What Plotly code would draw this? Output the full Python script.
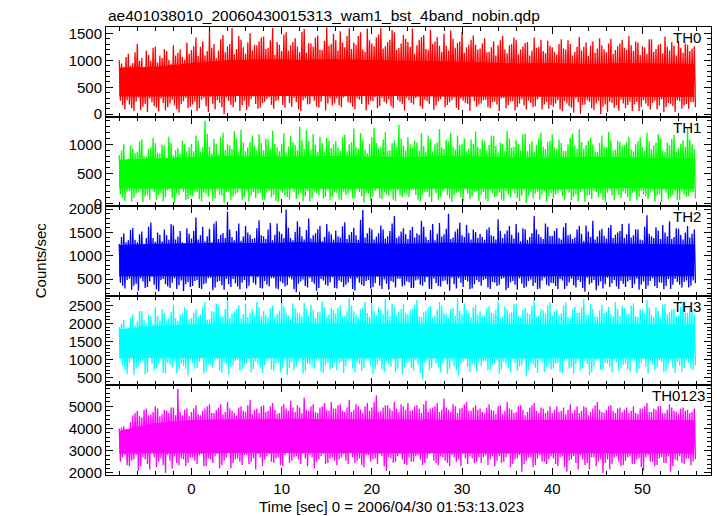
import plotly.graph_objects as go
from plotly.subplots import make_subplots

# ---------------- data ----------------
TITLE = "ae401038010_20060430015313_wam1_bst_4band_nobin.qdp"
XLABEL = "Time [sec] 0 = 2006/04/30 01:53:13.023"
YLABEL = "Counts/sec"
BANDS = ["TH0", "TH1", "TH2", "TH3", "TH0123"]
COLORS = ["#ff0000", "#00ff00", "#0000ff", "#00ffff", "#ff00ff"]

T_START = -8.0      # first time bin [s]
T_BIN = 0.125       # spacing between successive samples [s]

# local peaks (HI) and troughs (LO); per 0.5 s: HI_A, LO_A, HI_B, LO_B
TH0_HI_A = [1000, 880, 1120, 950, 1300, 1040, 1180, 990, 1250, 1090, 1210, 1010, 1280, 1140, 1060, 1330,
            1190, 1420, 1250, 1090, 1560, 1300, 1180, 1470, 1260, 1600, 1210, 1380, 1120, 1500, 1290, 1350,
            1440, 1230, 1600, 1340, 1170, 1520, 1280, 1410, 1150, 1580, 1320, 1250, 1460, 1190, 1610, 1300,
            1370, 1540, 1240, 1600, 1330, 1450, 1200, 1590, 1310, 1420, 1600, 1260, 1380, 1520, 1230, 1470,
            1340, 1590, 1280, 1430, 1210, 1560, 1350, 1270, 1490, 1180, 1400, 1320, 1530, 1240, 1380, 1290,
            1220, 1410, 1160, 1350, 1280, 1450, 1130, 1300, 1380, 1200, 1320, 1090, 1420, 1250, 1170, 1360,
            1240, 1110, 1390, 1200, 1300, 1160, 1430, 1250, 1080, 1350, 1220, 1280, 1150, 1400, 1190, 1310,
            1230, 1450, 1170, 1330, 1260, 1120, 1390, 1210, 1300, 1440, 1180, 1270, 1350, 1140, 1290, 1220]
TH0_LO_A = [250, 90, 180, 60, 310, 140, 40, 220, 120, 290, 70, 200, 160, 30, 240, 110,
            180, 60, 270, 150, 320, 90, 210, 0, 250, 130, 340, 170, 80, 280, 190, 120,
            230, 310, 100, 260, 170, 380, 140, 220, 60, 300, 190, 250, 120, 350, 200, 160,
            290, 130, 330, 210, 90, 270, 360, 180, 240, 110, 300, 200, 150, 340, 230, 70,
            260, 180, 320, 100, 240, 350, 160, 280, 130, 220, 310, 80, 250, 190, 330, 140,
            200, 270, 110, 230, 60, 300, 170, 240, 130, 280, 90, 210, 150, 320, 180, 100,
            140, 260, 60, 200, 120, 290, 10, 180, 230, 80, 250, 140, 40, 210, 170, 270,
            110, 230, 180, 60, 260, 150, 210, 90, 280, 130, 190, 40, 240, 160, 100, 220]
TH0_HI_B = [940, 1060, 900, 1150, 990, 870, 1100, 1230, 960, 1040, 1170, 930, 1090, 1200, 1010, 1120,
            1260, 1080, 1350, 1170, 1230, 1040, 1390, 1150, 1300, 1110, 1450, 1240, 1330, 1180, 1280, 1420,
            1210, 1370, 1100, 1290, 1480, 1180, 1340, 1250, 1530, 1140, 1310, 1420, 1200, 1360, 1270, 1490,
            1180, 1330, 1450, 1210, 1290, 1520, 1160, 1370, 1260, 1480, 1220, 1340, 1560, 1190, 1310, 1400,
            1250, 1120, 1380, 1470, 1190, 1300, 1430, 1160, 1270, 1550, 1230, 1350, 1140, 1290, 1460, 1200,
            1310, 1150, 1240, 1090, 1370, 1200, 1280, 1420, 1110, 1260, 1340, 1180, 1230, 1380, 1130, 1270,
            1160, 1300, 1220, 1370, 1090, 1250, 1180, 1330, 1270, 1140, 1410, 1200, 1310, 1120, 1260, 1380,
            1190, 1280, 1350, 1100, 1240, 1390, 1160, 1290, 1130, 1250, 1340, 1090, 1230, 1310, 1170, 1260]
TH0_LO_B = [170, 260, 110, 230, 80, 190, 290, 150, 50, 210, 130, 270, 90, 190, 300, 140,
            230, 110, 300, 40, 190, 260, 130, 310, 170, 220, 60, 250, 140, 330, 100, 210,
            280, 170, 240, 350, 120, 210, 300, 90, 260, 180, 330, 140, 230, 70, 290, 200,
            160, 310, 220, 140, 290, 190, 70, 250, 320, 150, 230, 280, 110, 260, 190, 300,
            210, 300, 150, 270, 190, 80, 240, 330, 170, 260, 120, 290, 210, 60, 240, 180,
            260, 130, 220, 180, 290, 110, 240, 70, 200, 160, 250, 130, 280, 90, 230, 170,
            200, 90, 240, 150, 30, 220, 170, 260, 110, 200, 0, 180, 230, 120, 70, 200,
            170, 60, 230, 140, 200, 90, 250, 160, 40, 210, 150, 260, 100, 190, 220, 130]

TH1_HI_A = [820, 1000, 760, 930, 870, 1080, 790, 950, 1020, 850, 980, 1130, 810, 940, 1060, 880,
            1010, 1150, 870, 1400, 960, 1090, 830, 1200, 1000, 920, 1100, 1250, 880, 1040, 970, 1170,
            900, 1080, 1230, 950, 1010, 860, 1140, 990, 1300, 920, 1060, 1180, 870, 1020, 1110, 940,
            1050, 890, 1160, 1000, 1270, 930, 1080, 850, 1120, 1020, 960, 1210, 900, 1070, 1330, 980,
            1120, 940, 1030, 1190, 870, 1090, 1000, 1260, 920, 1050, 960, 1150, 1010, 880, 1080, 1220,
            930, 1060, 990, 1140, 860, 1010, 1230, 940, 1070, 900, 1180, 1000, 870, 1100, 960, 1040,
            1170, 920, 1020, 890, 1110, 980, 1260, 930, 1060, 1000, 870, 1150, 950, 1080, 910, 1040,
            990, 1130, 880, 1050, 960, 1200, 920, 1030, 1100, 870, 990, 1160, 940, 1070, 1290, 1000]
TH1_LO_A = [150, 40, 210, 90, 180, 20, 130, 230, 60, 170, 100, 250, 10, 140, 200, 70,
            120, 190, 30, 160, 240, 80, 150, 0, 200, 110, 180, 50, 220, 130, 90, 170,
            60, 210, 140, 20, 180, 100, 250, 70, 160, 120, 30, 200, 140, 80, 230, 110,
            170, 50, 140, 220, 90, 190, 10, 160, 120, 240, 70, 150, 200, 40, 130, 180,
            100, 230, 60, 150, 190, 20, 170, 110, 250, 80, 140, 200, 30, 160, 120, 210,
            140, 70, 220, 100, 180, 40, 150, 240, 90, 130, 10, 190, 160, 60, 210, 120,
            80, 170, 120, 230, 50, 150, 190, 20, 140, 210, 100, 60, 180, 130, 240, 90,
            160, 40, 200, 110, 150, 70, 230, 130, 20, 180, 100, 210, 60, 150, 120, 190]
TH1_HI_B = [900, 740, 980, 850, 1050, 800, 920, 1110, 860, 990, 770, 1030, 900, 840, 1000, 950,
            880, 1060, 950, 1180, 840, 1010, 1120, 900, 980, 1220, 870, 1030, 950, 1150, 900, 1020,
            1100, 930, 1010, 880, 1190, 960, 1040, 900, 1070, 1240, 910, 990, 1130, 870, 1060, 1000,
            950, 1120, 880, 1040, 960, 1190, 910, 1010, 1280, 930, 1080, 890, 1020, 960, 1100, 900,
            1000, 1060, 900, 970, 1150, 880, 1030, 950, 1080, 1200, 910, 990, 1100, 930, 1010, 960,
            1080, 900, 1150, 970, 1030, 890, 1100, 960, 1010, 1170, 880, 1050, 990, 1200, 920, 1060,
            950, 1080, 890, 1000, 1180, 920, 1040, 990, 1110, 880, 1020, 950, 1210, 900, 1060, 980,
            1040, 910, 1000, 1120, 890, 1050, 980, 1170, 900, 1030, 1090, 870, 1010, 960, 1080, 920]
TH1_LO_B = [90, 200, 30, 160, 240, 110, 60, 190, 140, 30, 220, 90, 170, 240, 50, 130,
            200, 70, 180, 110, 40, 230, 130, 190, 60, 150, 240, 100, 30, 190, 160, 50,
            180, 100, 40, 220, 130, 60, 190, 150, 30, 210, 90, 170, 240, 110, 50, 190,
            60, 200, 160, 80, 230, 120, 170, 40, 210, 90, 190, 130, 60, 220, 100, 150,
            220, 140, 30, 190, 110, 240, 60, 200, 140, 20, 180, 100, 230, 70, 190, 40,
            190, 30, 170, 120, 60, 210, 100, 160, 40, 230, 130, 80, 200, 150, 20, 170,
            150, 220, 60, 180, 110, 30, 240, 130, 70, 190, 160, 30, 220, 60, 140, 200,
            100, 170, 50, 210, 120, 180, 20, 160, 230, 70, 140, 50, 200, 110, 190, 80]

TH2_HI_A = [1250, 1480, 1330, 1600, 1290, 1520, 1380, 1710, 1300, 1450, 1560, 1340, 1650, 1410, 1290, 1590,
            1370, 1820, 1440, 1310, 1580, 1690, 1360, 1490, 1950, 1400, 1530, 1320, 1640, 1450, 1380, 1760,
            1420, 1560, 1330, 1690, 1470, 1990, 1380, 1510, 1620, 1350, 1800, 1440, 1570, 1310, 1680, 1460,
            1540, 1390, 1720, 1450, 1600, 1340, 1980, 1480, 1560, 1410, 1650, 1370, 1530, 1850, 1420, 1590,
            1360, 1620, 1480, 1750, 1400, 1550, 1330, 1700, 1460, 1900, 1390, 1580, 1440, 1660, 1350, 1510,
            1470, 1340, 1610, 1420, 1780, 1380, 1540, 1450, 1680, 1310, 1570, 1400, 1850, 1460, 1360, 1620,
            1430, 1590, 1350, 1700, 1460, 1390, 1640, 1320, 1520, 1750, 1410, 1580, 1370, 1660, 1450, 1530,
            1380, 1690, 1440, 1560, 1330, 1870, 1420, 1610, 1360, 1500, 1740, 1400, 1580, 1350, 1640, 1470]
TH2_LO_A = [420, 300, 510, 360, 250, 450, 330, 550, 280, 480, 390, 310, 520, 370, 240, 440,
            350, 480, 290, 410, 530, 320, 460, 270, 390, 500, 340, 430, 300, 560, 380, 310,
            460, 340, 520, 280, 410, 370, 490, 220, 450, 350, 530, 400, 310, 470, 360, 540,
            300, 440, 380, 510, 260, 420, 350, 480, 330, 550, 290, 400, 460, 320, 500, 370,
            430, 310, 490, 360, 540, 280, 410, 340, 470, 250, 390, 520, 330, 450, 300, 480,
            360, 500, 290, 430, 380, 520, 310, 460, 270, 400, 340, 490, 420, 300, 530, 350,
            410, 280, 470, 350, 510, 320, 440, 230, 390, 480, 360, 300, 530, 410, 340, 460,
            330, 480, 390, 270, 450, 360, 520, 310, 420, 350, 290, 500, 380, 440, 320, 470]
TH2_HI_B = [1400, 1290, 1550, 1340, 1460, 1250, 1620, 1380, 1500, 1310, 1440, 1680, 1350, 1530, 1270, 1470,
            1530, 1350, 1620, 1420, 1290, 1740, 1450, 1380, 1560, 1330, 1690, 1410, 1500, 1360, 1590, 1440,
            1360, 1700, 1450, 1520, 1380, 1600, 1330, 1740, 1420, 1550, 1370, 1480, 1640, 1400, 1520, 1350,
            1420, 1630, 1360, 1510, 1440, 1770, 1390, 1600, 1350, 1480, 1560, 1420, 1690, 1380, 1520, 1460,
            1550, 1390, 1450, 1620, 1340, 1680, 1470, 1410, 1580, 1360, 1520, 1710, 1400, 1490, 1560, 1380,
            1400, 1560, 1440, 1350, 1530, 1470, 1640, 1370, 1500, 1590, 1340, 1480, 1560, 1400, 1690, 1430,
            1530, 1380, 1610, 1440, 1360, 1560, 1470, 1650, 1400, 1350, 1540, 1430, 1600, 1380, 1500, 1680,
            1460, 1390, 1570, 1350, 1620, 1470, 1380, 1540, 1660, 1420, 1360, 1590, 1450, 1500, 1390, 1560]
TH2_LO_B = [360, 480, 270, 400, 520, 310, 450, 380, 240, 500, 340, 420, 290, 470, 390, 330,
            460, 310, 390, 520, 260, 440, 370, 500, 330, 410, 280, 480, 360, 420, 540, 300,
            380, 520, 300, 450, 340, 530, 280, 400, 490, 320, 440, 250, 500, 380, 430, 310,
            470, 330, 430, 290, 520, 380, 460, 300, 410, 360, 490, 270, 430, 510, 340, 450,
            310, 470, 380, 440, 290, 510, 350, 460, 390, 530, 300, 420, 480, 280, 390, 440,
            480, 320, 440, 350, 500, 260, 430, 380, 520, 310, 460, 350, 290, 470, 380, 420,
            350, 500, 290, 430, 370, 480, 310, 530, 420, 260, 450, 390, 330, 480, 290, 400,
            450, 310, 510, 380, 290, 460, 350, 430, 280, 500, 380, 440, 320, 470, 360, 410]

TH3_HI_A = [1900, 2100, 1850, 2250, 2050, 2350, 2000, 2200, 2450, 2080, 2300, 2150, 2520, 2060, 2280, 2380,
            2150, 2400, 2250, 2600, 2120, 2330, 2480, 2200, 2700, 2280, 2400, 2150, 2550, 2300, 2220, 2450,
            2350, 2180, 2500, 2260, 2650, 2300, 2140, 2420, 2270, 2580, 2200, 2380, 2310, 2620, 2170, 2440,
            2280, 2500, 2210, 2700, 2340, 2160, 2450, 2290, 2560, 2230, 2390, 2680, 2200, 2470, 2320, 2540,
            2250, 2410, 2650, 2180, 2360, 2490, 2220, 2600, 2300, 2150, 2430, 2700, 2260, 2380, 2170, 2520,
            2340, 2200, 2480, 2270, 2620, 2190, 2400, 2310, 2550, 2160, 2430, 2260, 2650, 2220, 2370, 2500,
            2210, 2390, 2280, 2580, 2150, 2460, 2300, 2690, 2240, 2400, 2180, 2520, 2330, 2260, 2600, 2200,
            2430, 2270, 2560, 2190, 2380, 2650, 2250, 2460, 2170, 2540, 2310, 2400, 2230, 2620, 2290, 2360]
TH3_LO_A = [1000, 700, 900, 560, 820, 950, 620, 880, 740, 1000, 600, 850, 950, 700, 820, 560,
            900, 760, 1020, 650, 840, 970, 700, 900, 580, 830, 1000, 720, 880, 640, 950, 780,
            840, 1000, 690, 900, 770, 560, 920, 810, 1030, 670, 860, 740, 980, 620, 890, 760,
            700, 930, 820, 1000, 640, 870, 760, 990, 590, 850, 720, 940, 800, 660, 1010, 780,
            920, 690, 850, 450, 980, 760, 880, 640, 1000, 730, 820, 560, 940, 790, 870, 680,
            810, 960, 700, 870, 600, 930, 760, 1010, 680, 840, 550, 900, 770, 990, 650, 860,
            740, 900, 620, 1000, 780, 860, 690, 950, 560, 820, 1000, 710, 880, 640, 920, 770,
            880, 660, 950, 740, 1010, 600, 860, 780, 920, 680, 990, 620, 830, 760, 900, 700]
TH3_HI_B = [2000, 1800, 2150, 1950, 2350, 2100, 2250, 1980, 2200, 2400, 2050, 2320, 2150, 2250, 2450, 2120,
            2300, 2180, 2450, 2100, 2350, 2550, 2200, 2400, 2150, 2330, 2500, 2250, 2180, 2400, 2600, 2200,
            2240, 2420, 2160, 2350, 2480, 2220, 2560, 2300, 2200, 2400, 2520, 2150, 2330, 2450, 2250, 2380,
            2420, 2200, 2340, 2500, 2250, 2400, 2600, 2180, 2350, 2450, 2270, 2380, 2550, 2230, 2400, 2300,
            2370, 2530, 2200, 2320, 2450, 2180, 2380, 2500, 2260, 2400, 2210, 2350, 2560, 2300, 2450, 2240,
            2200, 2430, 2300, 2380, 2150, 2470, 2280, 2550, 2200, 2380, 2300, 2490, 2190, 2400, 2280, 2580,
            2350, 2240, 2500, 2180, 2380, 2300, 2450, 2250, 2550, 2200, 2370, 2290, 2460, 2200, 2400, 2500,
            2280, 2500, 2200, 2400, 2290, 2450, 2180, 2350, 2520, 2260, 2380, 2200, 2460, 2300, 2420, 2250]
TH3_LO_B = [820, 600, 1000, 750, 900, 580, 1050, 700, 850, 620, 900, 780, 620, 880, 740, 1000,
            740, 930, 600, 860, 760, 1000, 640, 880, 780, 950, 680, 850, 1010, 720, 860, 620,
            960, 720, 880, 640, 1000, 760, 690, 950, 600, 880, 800, 1000, 660, 830, 720, 900,
            880, 620, 990, 750, 900, 680, 1000, 820, 720, 960, 640, 860, 1000, 740, 590, 900,
            760, 980, 620, 900, 700, 1010, 780, 880, 600, 950, 690, 870, 1000, 650, 830, 920,
            940, 700, 850, 980, 720, 860, 640, 900, 800, 990, 700, 860, 620, 910, 800, 720,
            880, 650, 960, 740, 600, 1000, 760, 870, 640, 980, 700, 900, 800, 1000, 680, 850,
            720, 980, 620, 900, 800, 960, 700, 990, 640, 860, 760, 920, 660, 980, 740, 840]

TH0123_HI_A = [4000, 4100, 3900, 4600, 4800, 4500, 4900, 4650, 5000, 4550, 4850, 4700, 4950, 5800, 4600, 4900,
               4750, 5050, 4600, 4900, 5100, 4700, 4950, 4650, 5200, 4800, 4600, 5000, 4750, 5300, 4850, 4700,
               5050, 4800, 5150, 4650, 5000, 4900, 5250, 4750, 4950, 5400, 4800, 5100, 4700, 5000, 4850, 5200,
               4900, 5100, 4750, 5300, 4850, 5000, 4700, 5150, 4950, 5500, 4800, 5050, 4900, 5200, 4750, 5000,
               5150, 4850, 5050, 4700, 5250, 4900, 5000, 4750, 5350, 4850, 5100, 4700, 4950, 5200, 4800, 5050,
               4900, 4700, 5100, 4800, 5000, 4650, 5200, 4850, 4750, 5050, 4600, 4950, 5150, 4700, 4900, 4800,
               4700, 5000, 4800, 4650, 5100, 4850, 4700, 5000, 4600, 4900, 5200, 4750, 4850, 5050, 4700, 4950,
               4850, 4700, 5000, 4650, 4900, 5150, 4750, 4850, 5000, 4700, 5100, 4800, 4650, 4950, 4850, 4750]
TH0123_LO_A = [2500, 2800, 2300, 2600, 2100, 2700, 2400, 2900, 2250, 2650, 2000, 2550, 2750, 2350, 2600, 2450,
               2700, 2400, 2850, 2300, 2600, 2750, 2200, 2550, 2900, 2450, 2650, 2350, 2800, 2500, 2150, 2700,
               2600, 2850, 2450, 2700, 2300, 2900, 2550, 2750, 2400, 2650, 2800, 2200, 2600, 2850, 2450, 2700,
               2350, 2700, 2550, 2900, 2450, 2650, 2250, 2800, 2600, 2400, 2750, 2100, 2650, 2500, 2850, 2400,
               2700, 2500, 2800, 2350, 2650, 2900, 2450, 2750, 2550, 2300, 2700, 2600, 2850, 2400, 2650, 2500,
               2450, 2800, 2600, 2300, 2750, 2500, 2850, 2400, 2650, 2050, 2550, 2700, 2350, 2800, 2500, 2600,
               2650, 2300, 2750, 2050, 2600, 2450, 2800, 2350, 2150, 2700, 2500, 2000, 2600, 2400, 2750, 2300,
               2550, 2750, 2400, 2650, 2100, 2800, 2500, 2350, 2700, 2450, 2050, 2600, 2750, 2400, 2650, 2500]
TH0123_HI_B = [4050, 3950, 4300, 4700, 4550, 4850, 4600, 4750, 4900, 4650, 4800, 4950, 4600, 4750, 4850, 4550,
               4900, 4650, 4800, 5000, 4700, 4850, 5100, 4750, 4900, 4700, 4950, 4800, 5050, 4650, 4900, 5000,
               4750, 5000, 4850, 4700, 5100, 4800, 4950, 5050, 4700, 4850, 5000, 4750, 4950, 5150, 4800, 4900,
               5050, 4800, 4950, 4750, 5100, 4850, 5000, 4800, 5200, 4750, 4950, 5050, 4800, 4900, 5100, 4850,
               4800, 5000, 4900, 5100, 4750, 4950, 5150, 4850, 4950, 4750, 5000, 4900, 5100, 4800, 4950, 4850,
               4750, 4950, 4850, 4650, 5050, 4800, 4900, 4700, 5000, 4850, 4750, 5050, 4800, 4950, 4700, 5000,
               4850, 4750, 4950, 4850, 4700, 5000, 4800, 4950, 4750, 5050, 4850, 4700, 5000, 4800, 4900, 4750,
               4950, 4800, 4700, 4900, 5000, 4750, 4900, 5000, 4700, 4850, 4950, 4750, 4900, 4800, 4700, 4900]
TH0123_LO_B = [2700, 2350, 2550, 2800, 2300, 2600, 2150, 2700, 2500, 2350, 2800, 2200, 2450, 2650, 2300, 2700,
               2550, 2800, 2300, 2650, 2450, 2850, 2350, 2700, 2200, 2600, 2500, 2800, 2400, 2650, 2850, 2300,
               2750, 2500, 2650, 2350, 2800, 2450, 2700, 2600, 2850, 2300, 2700, 2500, 2750, 2400, 2650, 2550,
               2600, 2850, 2400, 2700, 2550, 2350, 2800, 2500, 2650, 2850, 2300, 2700, 2450, 2750, 2600, 2350,
               2500, 2750, 2600, 2450, 2850, 2550, 2350, 2700, 2450, 2800, 2500, 2300, 2650, 2750, 2450, 2700,
               2700, 2350, 2750, 2550, 2450, 2700, 2250, 2600, 2800, 2400, 2700, 2250, 2650, 2500, 2400, 2750,
               2400, 2700, 2250, 2550, 2750, 2150, 2600, 2450, 2700, 2300, 2600, 2450, 2150, 2700, 2500, 2350,
               2700, 2400, 2600, 2250, 2700, 2500, 2300, 2650, 2450, 2750, 2300, 2550, 2450, 2650, 2350, 2600]

# edges of the solid inner part of each band, every 4 s
CORE_TIMES = [-8, -4, 0, 4, 8, 12, 16, 20, 24, 28, 32, 36, 40, 44, 48, 52, 55.75]
TH0_CORE_TOP = [860, 880, 950, 1000, 1020, 1010, 1020, 1000, 990, 980, 960, 940, 950, 930, 950, 940, 930]
TH0_CORE_BOT = [330, 330, 340, 350, 350, 340, 350, 340, 340, 330, 330, 320, 320, 320, 330, 320, 320]
TH1_CORE_TOP = [740, 760, 790, 800, 790, 800, 800, 790, 780, 800, 790, 780, 770, 790, 780, 770, 760]
TH1_CORE_BOT = [250, 250, 260, 260, 250, 260, 250, 250, 260, 260, 250, 250, 240, 250, 260, 250, 240]
TH2_CORE_TOP = [1230, 1260, 1270, 1280, 1270, 1290, 1280, 1270, 1260, 1280, 1270, 1260, 1250, 1270, 1260, 1250, 1240]
TH2_CORE_BOT = [560, 560, 550, 560, 560, 560, 550, 560, 560, 560, 550, 560, 560, 560, 550, 560, 560]
TH3_CORE_TOP = [1850, 1930, 1980, 2000, 1990, 2010, 2000, 1990, 1990, 2000, 1990, 1980, 1980, 1990, 1980, 1980, 1970]
TH3_CORE_BOT = [1040, 1040, 1030, 1030, 1040, 1020, 1030, 1040, 1030, 1020, 1030, 1030, 1020, 1030, 1040, 1030, 1030]
TH0123_CORE_TOP = [3900, 4250, 4380, 4420, 4420, 4440, 4420, 4420, 4400, 4420, 4400, 4390, 4380, 4400, 4390, 4380, 4370]
TH0123_CORE_BOT = [2880, 2880, 2880, 2900, 2900, 2900, 2900, 2890, 2890, 2890, 2880, 2870, 2860, 2870, 2880, 2880, 2880]

X_RANGE = [-9.47, 57.6]
Y_RANGES = [[-44, 1617], [-50, 1470], [142, 2062], [278, 2770], [1905, 5946]]
Y_DTICK = [500, 500, 500, 500, 1000]
Y_MINOR = [100, 100, 100, 100, 200]

SERIES = [(TH0_HI_A, TH0_LO_A, TH0_HI_B, TH0_LO_B),
          (TH1_HI_A, TH1_LO_A, TH1_HI_B, TH1_LO_B),
          (TH2_HI_A, TH2_LO_A, TH2_HI_B, TH2_LO_B),
          (TH3_HI_A, TH3_LO_A, TH3_HI_B, TH3_LO_B),
          (TH0123_HI_A, TH0123_LO_A, TH0123_HI_B, TH0123_LO_B)]
CORES = [(TH0_CORE_TOP, TH0_CORE_BOT), (TH1_CORE_TOP, TH1_CORE_BOT), (TH2_CORE_TOP, TH2_CORE_BOT),
         (TH3_CORE_TOP, TH3_CORE_BOT), (TH0123_CORE_TOP, TH0123_CORE_BOT)]

# ---------------- figure ----------------
FONT = "Liberation Sans, Arial, Helvetica, sans-serif"
fig = make_subplots(rows=5, cols=1, shared_xaxes=True, vertical_spacing=0)

for i, (ha, la, hb, lb) in enumerate(SERIES):
    top, bot = CORES[i]
    fig.add_trace(go.Scatter(x=CORE_TIMES + CORE_TIMES[::-1], y=top + bot[::-1], mode="lines",
                             fill="toself", fillcolor=COLORS[i], line=dict(width=0, color=COLORS[i]),
                             showlegend=False, hoverinfo="skip"), row=i + 1, col=1)
    ys = []
    for a, b, c, d in zip(ha, la, hb, lb):
        ys.extend([a, b, c, d])
    xs = [T_START + T_BIN * k for k in range(len(ys))]
    fig.add_trace(go.Scatter(x=xs, y=ys, mode="lines", line=dict(color=COLORS[i], width=1.3),
                             showlegend=False, hoverinfo="skip"), row=i + 1, col=1)

for i in range(5):
    fig.update_xaxes(range=X_RANGE, showline=True, linecolor="black", linewidth=1, mirror="allticks",
                     ticks="inside", ticklen=7, tickwidth=1, tickcolor="black", dtick=10, tick0=0,
                     minor=dict(ticks="inside", dtick=2, ticklen=4, tickcolor="black", tickwidth=1),
                     showgrid=False, zeroline=False, showticklabels=(i == 4), automargin=False,
                     tickfont=dict(family=FONT, size=15, color="black"), ticklabelstandoff=0,
                     row=i + 1, col=1)
    fig.update_yaxes(range=Y_RANGES[i], showline=True, linecolor="black", linewidth=1, mirror="allticks",
                     ticks="inside", ticklen=7, tickwidth=1, tickcolor="black", dtick=Y_DTICK[i], tick0=0,
                     minor=dict(ticks="inside", dtick=Y_MINOR[i], ticklen=4, tickcolor="black", tickwidth=1),
                     showgrid=False, zeroline=False, automargin=False,
                     tickfont=dict(family=FONT, size=15, color="black"),
                     row=i + 1, col=1)

annotations = [
    dict(text=TITLE, xref="paper", yref="paper", x=0.0, y=1.0, xanchor="left", yanchor="middle",
         yshift=12, showarrow=False, font=dict(family=FONT, size=15.5, color="black")),
    dict(text=XLABEL, xref="paper", yref="paper", x=0.472, y=0.0, xanchor="center", yanchor="middle",
         yshift=-31, showarrow=False, font=dict(family=FONT, size=15, color="black")),
    dict(text=YLABEL, xref="paper", yref="paper", x=-0.107, y=0.48, xanchor="center", yanchor="middle",
         textangle=-90, showarrow=False, font=dict(family=FONT, size=15, color="black")),
]
label_right = [0.987, 0.987, 0.987, 0.987, 0.994]
for i, name in enumerate(BANDS):
    annotations.append(dict(text=name, xref="paper", yref="paper", x=label_right[i], y=1.0 - 0.2 * i,
                            xanchor="right", yanchor="middle", yshift=-10.5, showarrow=False,
                            font=dict(family=FONT, size=15, color="black")))

fig.update_layout(width=717, height=516, margin=dict(l=106, r=6, t=27, b=41),
                  paper_bgcolor="white", plot_bgcolor="white", annotations=annotations,
                  font=dict(family=FONT, size=15, color="black"))

fig.write_html("out.html", config={"displayModeBar": False},
               post_script="document.body.style.margin='0';")
